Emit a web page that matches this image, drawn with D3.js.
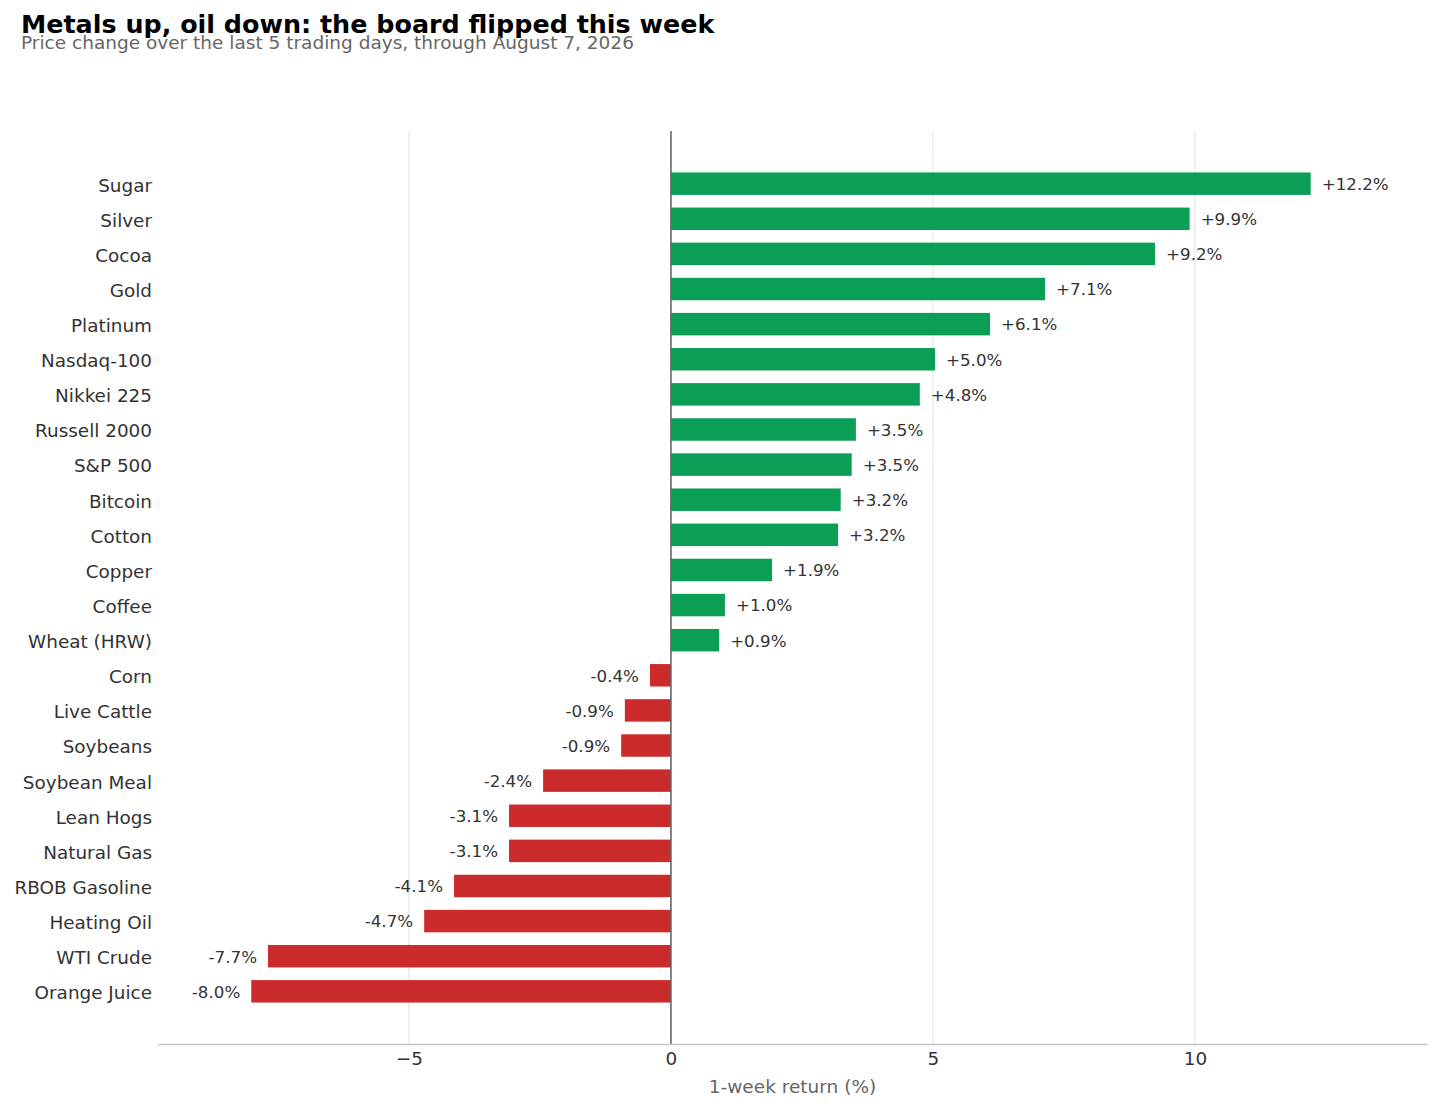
<!DOCTYPE html>
<html>
<head>
<meta charset="utf-8">
<script src="https://cdn.jsdelivr.net/npm/d3@7/dist/d3.min.js"></script>
<style>
  html, body { margin: 0; padding: 0; background: #fff; }
  svg { display: block; font-family: "DejaVu Sans", sans-serif; }
</style>
</head>
<body>
<svg id="chart" width="1440" height="1109"></svg>
<script>
const categories = ["Sugar","Silver","Cocoa","Gold","Platinum","Nasdaq-100","Nikkei 225","Russell 2000","S&P 500","Bitcoin","Cotton","Copper","Coffee","Wheat (HRW)","Corn","Live Cattle","Soybeans","Soybean Meal","Lean Hogs","Natural Gas","RBOB Gasoline","Heating Oil","WTI Crude","Orange Juice"];
const returns = [12.21, 9.90, 9.24, 7.14, 6.09, 5.04, 4.75, 3.53, 3.45, 3.24, 3.19, 1.93, 1.03, 0.92, -0.40, -0.88, -0.95, -2.44, -3.09, -3.09, -4.14, -4.71, -7.69, -8.01];
const xTicks = [-5, 0, 5, 10];
const titleText = "Metals up, oil down: the board flipped this week";
const subtitleText = "Price change over the last 5 trading days, through August 7, 2026";
const xLabelText = "1-week return (%)";

const svg = d3.select("#chart");
const plot = { left: 158, right: 1427, top: 131, bottom: 1044 };

const x = d3.scaleLinear().domain([-9.79, 14.43]).range([plot.left, plot.right]);
const y = d3.scaleLinear().domain([-1.5, categories.length + 0.5]).range([plot.top, plot.bottom]);
const barH = (y(1) - y(0)) * 0.64;

// gridlines
svg.append("g").selectAll("line").data(xTicks.filter(d => d !== 0)).join("line")
  .attr("x1", d => x(d)).attr("x2", d => x(d))
  .attr("y1", plot.top).attr("y2", plot.bottom)
  .attr("stroke", "#ebebeb").attr("stroke-width", 1.5);

// bars
svg.append("g").selectAll("rect").data(returns).join("rect")
  .attr("x", d => Math.min(x(0), x(d)))
  .attr("width", d => Math.abs(x(d) - x(0)))
  .attr("y", (d, i) => y(i) - barH / 2)
  .attr("height", barH)
  .attr("fill", d => d >= 0 ? "#0b9e55" : "#cc2b2c");

// zero line
svg.append("line")
  .attr("x1", x(0)).attr("x2", x(0))
  .attr("y1", plot.top).attr("y2", plot.bottom)
  .attr("stroke", "#666").attr("stroke-width", 1.6);

// value labels
const fmt = d => (d >= 0 ? "+" : "-") + Math.abs(d).toFixed(1) + "%";
svg.append("g").selectAll("text").data(returns).join("text")
  .attr("x", d => d >= 0 ? x(d) + 11 : x(d) - 11)
  .attr("y", (d, i) => y(i))
  .attr("dy", "0.38em")
  .attr("text-anchor", d => d >= 0 ? "start" : "end")
  .attr("font-size", 16.7)
  .attr("fill", "#333")
  .text(fmt);

// y axis labels
const yAxis = d3.axisLeft(y).tickValues(d3.range(categories.length)).tickSize(0).tickPadding(6)
  .tickFormat(i => categories[i]);
const gy = svg.append("g").attr("transform", `translate(${plot.left},0)`).call(yAxis);
gy.select(".domain").remove();
gy.selectAll("text").attr("font-size", 18.4).attr("fill", "#333").attr("font-family", "DejaVu Sans")
  .attr("dy", "0.4em");

// x axis
const xAxis = d3.axisBottom(x).tickValues(xTicks).tickSize(0).tickPadding(8)
  .tickFormat(d => d < 0 ? "\u2212" + Math.abs(d) : String(d));
const gx = svg.append("g").attr("transform", `translate(0,${plot.bottom})`).call(xAxis);
gx.select(".domain").attr("stroke", "#c8c8c8").attr("stroke-width", 1.4);
gx.selectAll("text").attr("font-size", 18.4).attr("fill", "#333").attr("font-family", "DejaVu Sans");

// x label
svg.append("text")
  .attr("x", (plot.left + plot.right) / 2).attr("y", 1093)
  .attr("text-anchor", "middle").attr("font-size", 18.5).attr("fill", "#666")
  .text(xLabelText);

// title & subtitle
svg.append("text").attr("x", 21).attr("y", 33)
  .attr("font-size", 25.4).attr("font-weight", "bold").attr("fill", "#000")
  .text(titleText);
svg.append("text").attr("x", 21).attr("y", 49)
  .attr("font-size", 18.5).attr("fill", "#666")
  .text(subtitleText);
</script>
</body>
</html>
